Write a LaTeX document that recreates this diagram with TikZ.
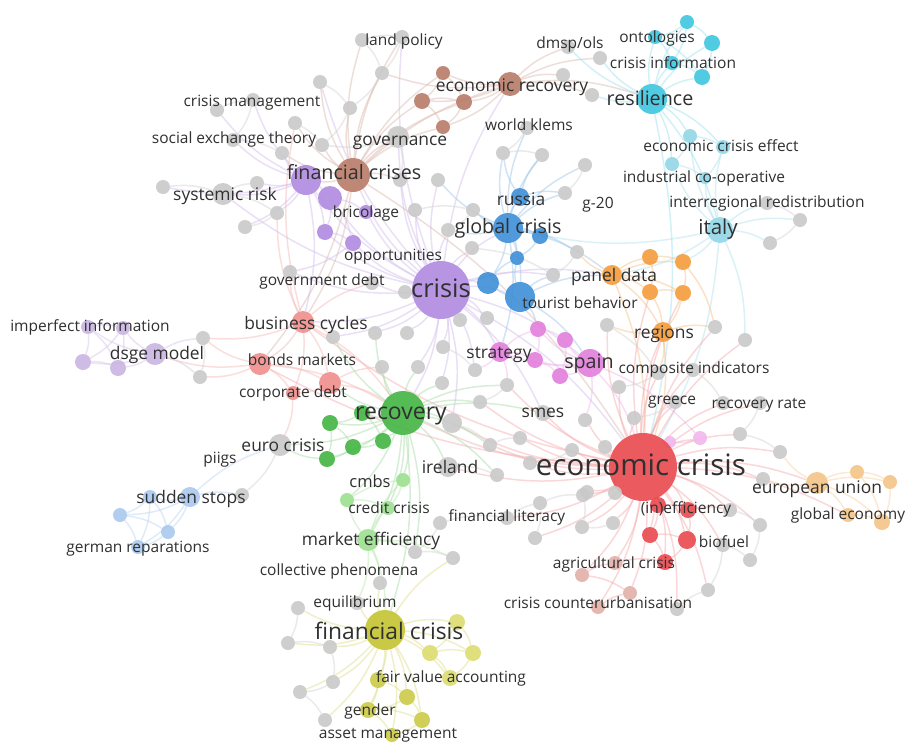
\documentclass[tikz,border=0pt]{standalone}
\usepackage{fontspec}
\setmainfont{Open Sans}
\pgfdeclarelayer{bg}
\pgfdeclarelayer{paper}
\pgfsetlayers{paper,bg,main}

% cluster colours
\definecolor{pur}{HTML}{B08AE0}
\definecolor{brn}{HTML}{B97A68}
\definecolor{cya}{HTML}{3FC6DF}
\definecolor{lcy}{HTML}{92D7E8}
\definecolor{blu}{HTML}{3D8FD8}
\definecolor{org}{HTML}{F39C3A}
\definecolor{pnk}{HTML}{E37FDC}
\definecolor{ppk}{HTML}{F2B6EC}
\definecolor{red}{HTML}{E8494E}
\definecolor{pred}{HTML}{E2B0A8}
\definecolor{sal}{HTML}{F08F8C}
\definecolor{grn}{HTML}{42B443}
\definecolor{lgr}{HTML}{9CE090}
\definecolor{yel}{HTML}{C4C432}
\definecolor{lye}{HTML}{DCDC70}
\definecolor{lpu}{HTML}{C9B5E2}
\definecolor{lbl}{HTML}{A9C8EE}
\definecolor{lor}{HTML}{F5C487}
\definecolor{gry}{HTML}{C9C9C9}
\definecolor{labtext}{HTML}{303030}

\newcommand{\fsz}[1]{\fontsize{#1}{#1}\selectfont}

\tikzset{
  dot/.style={circle, inner sep=0pt, draw=none, fill opacity=0.9},
  lab/.style={anchor=mid, inner sep=0pt, text=labtext, font=\fsz{15.5}, yshift=-3pt},
  labm/.style={lab, font=\fsz{17.4}, yshift=-0.5pt},
  labb/.style={lab, font=\fsz{19.7}, yshift=-1pt},
  link/.style={line width=1.5pt, draw opacity=0.48},
  ePur/.style={link, draw=pur!55},
  eBr/.style={link, draw=brn!50},
  eCy/.style={link, draw=cya!50},
  eLc/.style={link, draw=lcy!70},
  eBl/.style={link, draw=blu!50},
  eOr/.style={link, draw=org!60},
  ePk/.style={link, draw=pnk!55},
  eRd/.style={link, draw=red!45},
  eSa/.style={link, draw=sal!60},
  eGr/.style={link, draw=grn!45},
  eLg/.style={link, draw=lgr!70},
  eYe/.style={link, draw=yel!55},
  eLp/.style={link, draw=lpu!75},
  eLb/.style={link, draw=lbl!75},
  eLo/.style={link, draw=lor!75},
  eGy/.style={link, draw=gry!80},
}

\begin{document}
\begin{tikzpicture}[x=1pt, y=-1pt]
\useasboundingbox (0,0) rectangle (907,742);
\begin{pgfonlayer}{paper}
\fill[white] (0,0) rectangle (907,742);
\end{pgfonlayer}

% ---------- coloured items ----------
\foreach \n/\x/\y/\r in {crisis/441/290/29, pA/306/180/15, pB/330/198/12, pC/325/232/8, pD/353/243/8, bric/366/212/7}
  \node[dot, fill=pur, minimum size=2*\r] (\n) at (\x,\y) {};
\foreach \n/\x/\y/\r in {fcs/353/175/17, erec/510/84/12, bA/443/73/7, bB/422/101/8, bC/464/102/8, bD/443/127/7}
  \node[dot, fill=brn, minimum size=2*\r] (\n) at (\x,\y) {};
\foreach \n/\x/\y/\r in {res/652/99/15, cA/687/22/7, cB/655/37/7, cC/712/43/8, cD/672/63/7, cE/702/77/8}
  \node[dot, fill=cya, minimum size=2*\r] (\n) at (\x,\y) {};
\foreach \n/\x/\y/\r in {lcA/690/136/7, lcB/723/147/7, lcC/672/164/7, lcD/705/178/6, italy/720/230/13}
  \node[dot, fill=lcy, minimum size=2*\r] (\n) at (\x,\y) {};
\foreach \n/\x/\y/\r in {gc/508/228/15, russia/520/197/9, blA/540/236/8, blB/488/283/11, blC/517/258/7, tour/520/297/15}
  \node[dot, fill=blu, minimum size=2*\r] (\n) at (\x,\y) {};
\foreach \n/\x/\y/\r in {panel/612/275/10, oA/650/257/8, oB/683/262/8, oC/650/292/8, oD/683/293/8, regions/663/332/10}
  \node[dot, fill=org, minimum size=2*\r] (\n) at (\x,\y) {};
\foreach \n/\x/\y/\r in {spain/590/363/14, strat/500/352/10, kA/538/329/8, kB/565/340/8, kC/535/360/8, kD/560/376/8}
  \node[dot, fill=pnk, minimum size=2*\r] (\n) at (\x,\y) {};
\foreach \n/\x/\y/\r in {pkA/700/438/7, pkB/670/442/6}
  \node[dot, fill=ppk, minimum size=2*\r] (\n) at (\x,\y) {};
\foreach \n/\x/\y/\r in {ec/643/467/34, rA/658/505/8, rB/688/510/8, rC/650/535/8, rD/687/540/9, rE/665/562/8}
  \node[dot, fill=red, minimum size=2*\r] (\n) at (\x,\y) {};
\foreach \n/\x/\y/\r in {agA/582/575/7, agB/615/563/7, cuA/630/593/7, cuB/598/607/7}
  \node[dot, fill=pred, minimum size=2*\r] (\n) at (\x,\y) {};
\foreach \n/\x/\y/\r in {bc/303/322/11, bm/260/364/11, cd/330/383/11, sA/293/393/7}
  \node[dot, fill=sal, minimum size=2*\r] (\n) at (\x,\y) {};
\foreach \n/\x/\y/\r in {rec/403/413/22, gA/362/413/8, gB/330/423/8, gC/353/447/8, gD/383/441/8, gE/327/459/8}
  \node[dot, fill=grn, minimum size=2*\r] (\n) at (\x,\y) {};
\foreach \n/\x/\y/\r in {cmbs/403/480/7, lgA/347/500/7, lgB/388/508/7, mef/368/540/11}
  \node[dot, fill=lgr, minimum size=2*\r] (\n) at (\x,\y) {};
\node[dot, fill=yel, minimum size=40] (fc) at (385,630) {};
\foreach \n/\x/\y/\r in {yA/457/622/8, yB/430/653/8, yC/473/653/8, yD/450/678/8}
  \node[dot, fill=lye, minimum size=2*\r] (\n) at (\x,\y) {};
\foreach \n/\x/\y/\r in {yE/378/680/8, yF/407/697/8, yG/368/710/8, yH/422/720/8, yI/392/735/7}
  \node[dot, fill=yel!90, minimum size=2*\r] (\n) at (\x,\y) {};
\foreach \n/\x/\y/\r in {dsge/155/354/11, lpA/88/327/7, lpB/123/328/7, lpC/83/362/8, lpD/118/368/8}
  \node[dot, fill=lpu, minimum size=2*\r] (\n) at (\x,\y) {};
\foreach \n/\x/\y/\r in {ss/190/497/10, lbA/150/497/7, lbB/120/515/7, lbC/168/532/7, lbD/138/547/7}
  \node[dot, fill=lbl, minimum size=2*\r] (\n) at (\x,\y) {};
\foreach \n/\x/\y/\r in {eu/817/483/11, loA/857/472/7, loB/890/482/7, loC/848/515/7, loD/882/522/8}
  \node[dot, fill=lor, minimum size=2*\r] (\n) at (\x,\y) {};

% ---------- grey items ----------
\foreach \n/\x/\y/\r in {
  g1/362/40/7, g2/402/37/7, g3/382/73/7, g4/320/82/7, g5/350/108/7, g6/295/123/7,
  g7/322/145/7, gov/398/137/11, g9/217/110/7, g10/253/100/7, g11/233/140/7,
  g12/282/153/7, g13/163/187/7, sys/223/194/11, g15/257/183/7, g16/277/213/7,
  g17/245/227/7, g18/438/180/7, g19/400/180/7, g20/415/210/7, g21/473/210/7,
  g22/448/230/7, wk/527/128/7, g24/503/153/7, g25/542/155/7, g26/585/165/7,
  g20n/565/193/7, dm1/568/47/7, dm2/600/58/7, dm3/563/75/7, dm4/592/95/7,
  g31/372/283/7, g32/405/292/7, g33/460/320/7, g34/487/318/7, g35/333/337/7,
  g36/375/333/7, g37/407/333/7, g38/443/347/7, g39/382/367/7, g40/418/367/7,
  g41/475/370/7, g42/507/385/7, g43/442/383/7, g44/480/402/7, g45/452/423/10,
  smes/543/413/8, g47/490/445/7, g48/520/438/7, g49/585/420/7, g50/572/450/7,
  irl/448/467/10, g52/497/475/7, g53/530/463/7, g54/587/492/7, g55/607/325/7,
  g56/715/327/7, g57/745/340/7, g58/658/373/7, g59/693/370/7, g60/619/387/7,
  gre/675/402/7, g62/723/403/7, g63/760/403/7, g64/634/418/7, g65/740/434/7,
  g66/780/452/7, g67/763/479/7, it1/767/203/7, it2/800/220/7, it3/770/243/7,
  g69/613/523/7, g70/730/510/7, g71/760/525/7, g72/723/545/7, g73/750/560/7,
  g74/708/590/7, g75/677/609/7, fl1/440/523/7, g77/415/552/7, g78/453/558/7,
  g79/380/583/7, g80/357/603/7, fl2/507/518/7, g82/540/503/7, g83/535/538/7,
  g84/583/495/7, g85/582/527/7, g86/330/647/7, g87/333/682/7, g88/300/692/7,
  g89/325/720/7, g90/298/608/7, g91/288/643/7, g93/242/495/7, g94/203/338/7,
  g95/200/377/7, g96/290/272/7, euro/280/445/11, g97/472/248/7, g98/553/275/7,
  g99/577/252/7, g100/605/447/7, g101/615/493/7}
  \node[dot, fill=gry, minimum size=2*\r] (\n) at (\x,\y) {};

% ---------- links ----------
\begin{pgfonlayer}{bg}
\foreach \a/\b in {crisis/pA, crisis/pB, crisis/pC, crisis/pD, crisis/bric, crisis/g31,
  crisis/g32, crisis/g33, crisis/g34, crisis/g36, crisis/g37, crisis/g38, crisis/g40,
  crisis/g22, crisis/g20, crisis/g18, crisis/g19, crisis/fcs, crisis/bc, crisis/rec,
  crisis/ec, crisis/gc, crisis/blB, crisis/tour, crisis/strat, crisis/spain, crisis/panel,
  crisis/gov, crisis/g45, crisis/g43, crisis/g96, crisis/erec, crisis/g4, crisis/sys,
  crisis/g41, crisis/smes, crisis/g35, crisis/g97, crisis/g98, crisis/g2, pA/g13, pA/sys,
  pA/g15, pA/g16, pA/g17, pA/g11, pA/g12, pA/g9, pA/pB, pA/pC, pA/g10, pB/pC, pB/pD,
  pB/bric, pC/pD, pD/g96, pA/bc}
  \draw[ePur] (\a) to[bend left=12] (\b);
\foreach \a/\b in {fcs/pA, fcs/erec, fcs/bA, fcs/bB, fcs/bC, fcs/bD, fcs/gov, fcs/g5,
  fcs/g4, fcs/g6, fcs/g7, fcs/g3, fcs/bc, fcs/g12, fcs/g19, fcs/g1, fcs/g2, erec/bA,
  erec/bB, erec/bC, erec/bD, erec/dm1, erec/dm2, erec/dm3, erec/res, erec/g3, erec/dm4,
  bA/bB, bA/bC, bB/bD, bC/bD, bB/bC, fcs/ec, fcs/bm}
  \draw[eBr] (\a) to[bend left=12] (\b);
\foreach \a/\b in {res/cA, res/cB, res/cC, res/cD, res/cE, res/lcA, res/lcB, res/lcC,
  res/italy, res/dm2, res/dm4, res/dm1, cA/cB, cA/cC, cB/cD, cC/cE, cD/cE, cB/cE, cA/cD, res/ec}
  \draw[eCy] (\a) to[bend left=12] (\b);
\foreach \a/\b in {italy/lcA, italy/lcB, italy/lcC, italy/lcD, italy/it1, italy/it2,
  italy/it3, italy/gc, italy/panel, italy/oB, italy/ec, lcA/lcB, lcC/lcD, lcA/lcC,
  lcB/lcD, italy/g57}
  \draw[eLc] (\a) to[bend left=12] (\b);
\foreach \a/\b in {gc/russia, gc/blA, gc/blB, gc/blC, gc/tour, gc/wk, gc/g24, gc/g25,
  gc/g26, gc/g20n, gc/g21, gc/g22, gc/panel, tour/blB, tour/blC, tour/panel, tour/spain,
  tour/kA, russia/g20n, russia/g24, russia/g25, blA/blC, blB/blC, gc/g18, gc/strat,
  tour/g98, gc/g99}
  \draw[eBl] (\a) to[bend left=12] (\b);
\foreach \a/\b in {panel/oA, panel/oB, panel/oC, panel/oD, panel/regions, panel/ec,
  oA/oB, oA/oC, oB/oD, oC/oD, oC/regions, oD/regions, regions/ec, regions/g58,
  regions/g55, regions/g56, oB/g56, panel/g99}
  \draw[eOr] (\a) to[bend left=12] (\b);
\foreach \a/\b in {spain/kA, spain/kB, spain/kC, spain/kD, spain/strat, spain/ec,
  spain/g49, strat/kA, strat/kC, strat/g42, strat/g41, kA/kB, kC/kD, kB/kD, kA/kC,
  spain/pkA, pkA/pkB}
  \draw[ePk] (\a) to[bend left=12] (\b);
\foreach \a/\b in {ec/rA, ec/rB, ec/rC, ec/rD, ec/rE, ec/agA, ec/agB, ec/cuA, ec/cuB,
  ec/smes, ec/gre, ec/g62, ec/g63, ec/g65, ec/g66, ec/g67, ec/g64, ec/g60, ec/g58, ec/g59,
  ec/g49, ec/g50, ec/g53, ec/g54, ec/g84, ec/g85, ec/g69, ec/g70, ec/g71, ec/g72,
  ec/g74, ec/g75, ec/irl, ec/rec, ec/eu, ec/loC, ec/regions, ec/g57, ec/g56, ec/pkA,
  ec/pkB, ec/fl2, ec/g83, ec/bc, ec/g48, ec/g55, ec/g45, ec/g47, ec/g44, ec/g42, ec/bm,
  ec/oC, ec/oD, ec/g100, ec/g101, rA/rB, rA/rC, rB/rD, rC/rD, rC/rE, rD/rE, rB/g70,
  agA/agB, agA/cuA, agB/rE, cuB/cuA}
  \draw[eRd] (\a) to[bend left=12] (\b);
\foreach \a/\b in {bc/bm, bc/cd, bc/sA, bc/g35, bc/g94, bc/g96, bc/g6, bc/rec, bm/cd,
  bm/sA, bm/dsge, bm/g94, bm/g95, bm/rec, cd/sA, cd/rec, cd/g39, bc/g16, bc/g31, sA/euro}
  \draw[eSa] (\a) to[bend left=12] (\b);
\foreach \a/\b in {rec/gA, rec/gB, rec/gC, rec/gD, rec/gE, rec/cmbs, rec/lgA, rec/lgB,
  rec/mef, rec/cd, rec/euro, rec/g45, rec/irl, rec/smes, rec/fc, rec/g39, rec/g40,
  rec/g43, rec/g44, rec/g47, rec/g77, rec/g35, rec/g36, gB/gC, gC/gE, gB/gE, gA/gB,
  gD/gC, gA/gD, gE/euro, rec/g52, rec/g42}
  \draw[eGr] (\a) to[bend left=12] (\b);
\foreach \a/\b in {mef/lgA, mef/lgB, mef/cmbs, mef/fc, mef/g79, mef/g77, mef/g78,
  lgA/lgB, cmbs/lgB, lgA/cmbs, mef/g80}
  \draw[eLg] (\a) to[bend left=12] (\b);
\foreach \a/\b in {fc/yA, fc/yB, fc/yC, fc/yD, fc/yE, fc/yF, fc/yG, fc/yH, fc/yI,
  fc/g79, fc/g80, fc/g86, fc/g87, fc/g88, fc/g89, fc/g90, fc/g91, fc/g78, yA/yC, yB/yC,
  yB/yD, yC/yD, yE/yF, yF/yG, yF/yH, yG/yH, yE/yG, yA/yB, yG/yI, yH/yI}
  \draw[eYe] (\a) to[bend left=12] (\b);
\foreach \a/\b in {dsge/lpA, dsge/lpB, dsge/lpC, dsge/lpD, dsge/g94, dsge/g95, lpA/lpB,
  lpA/lpC, lpC/lpD, lpB/lpD, lpA/lpD, lpB/lpC}
  \draw[eLp] (\a) to[bend left=12] (\b);
\foreach \a/\b in {ss/lbA, ss/lbB, ss/lbC, ss/lbD, ss/g93, ss/euro, lbA/lbB, lbB/lbD,
  lbA/lbC, lbC/lbD, lbB/lbC, lbA/lbD}
  \draw[eLb] (\a) to[bend left=12] (\b);
\foreach \a/\b in {eu/loA, eu/loB, eu/loC, eu/loD, eu/g67, loA/loB, loC/loD, loA/loD,
  loB/loD, eu/g66}
  \draw[eLo] (\a) to[bend left=12] (\b);
\foreach \a/\b in {g1/g3, g2/g3, g3/g5, g9/g10, g10/g11, g11/g12, g13/sys, sys/g15,
  sys/g16, g16/g17, euro/g93, g86/g87, g87/g88, g88/g89, g90/g91, g91/g86, it1/it2,
  it2/it3, g70/g71, g72/g73, g71/g73, g62/g63, g63/g65, g65/g66, g75/g74, wk/g24,
  g24/g25, g26/g20n, fl1/fl2, g82/g83, g84/g85, g94/g95, g5/g7, g6/g7, gov/g7, gov/g19,
  g20/g21, g21/g22, g55/g58, g58/g60, g59/g62, gre/g64, g69/g85, g72/g74, g1/g2, g4/g5,
  g38/g41, g42/g44, g47/g48, g50/g53, irl/g52, fl1/g77, g77/g78, g82/g84, fl2/g82,
  g45/g47, g97/g98, g99/g98, g100/g101}
  \draw[eGy] (\a) to[bend left=12] (\b);
\end{pgfonlayer}

% ---------- labels ----------
\node[lab] (t1) at (404,40) {land policy};
\node[lab] (t2) at (570,43) {dmsp/ols};
\node[lab] (t3) at (657,37) {ontologies};
\node[lab] (t4) at (673,63) {crisis information};
\node[lab] (t5) at (252,101) {crisis management};
\node[lab] (t6) at (529,125) {world klems};
\node[lab] (t7) at (234,138) {social exchange theory};
\node[lab] (t8) at (721,146) {economic crisis effect};
\node[lab] (t9) at (704,177) {industrial co-operative};
\node[lab] (t10) at (366,212) {bricolage};
\node[lab] (t11) at (767,202) {interregional redistribution};
\node[lab] (t12) at (598,203) {g-20};
\node[lab] (t13) at (393,255) {opportunities};
\node[lab] (t14) at (322,280) {government debt};
\node[lab] (t15) at (580,303) {tourist behavior};
\node[lab] (t16) at (90,326) {imperfect information};
\node[lab] (t17) at (302,360) {bonds markets};
\node[lab] (t18) at (694,368) {composite indicators};
\node[lab] (t19) at (293,392) {corporate debt};
\node[lab] (t20) at (672,399) {greece};
\node[lab] (t21) at (759,403) {recovery rate};
\node[lab] (t22) at (220,458) {piigs};
\node[lab] (t23) at (389,508) {credit crisis};
\node[lab] (t24) at (686,508) {(in)efficiency};
\node[lab] (t25) at (507,516) {financial literacy};
\node[lab] (t26) at (848,514) {global economy};
\node[lab] (t27) at (724,542) {biofuel};
\node[lab] (t28) at (138,547) {german reparations};
\node[lab] (t29) at (614,563) {agricultural crisis};
\node[lab] (t30) at (339,570) {collective phenomena};
\node[lab] (t31) at (598,603) {crisis counterurbanisation};
\node[lab] (t32) at (355,602) {equilibrium};
\node[lab] (t33) at (451,677) {fair value accounting};
\node[lab] (t34) at (370,710) {gender};
\node[lab] (t35) at (388,733) {asset management};

\node[labm] (m1) at (512,85) {economic recovery};
\node[labm] (m2) at (400,139) {governance};
\node[labm] (m3) at (225,194) {systemic risk};
\node[labm] (m4) at (521,199) {russia};
\node[labm] (m5) at (614,275) {panel data};
\node[labm] (m6) at (306,323) {business cycles};
\node[labm] (m7) at (664,332) {regions};
\node[labm] (m8) at (157,353) {dsge model};
\node[labm] (m9) at (499,352) {strategy};
\node[labm] (m10) at (283,445) {euro crisis};
\node[labm] (m11) at (543,411) {smes};
\node[labm] (m12) at (450,467) {ireland};
\node[labm] (m13) at (817,487) {european union};
\node[lab, font=\fsz{16.5}] (m14) at (370,482) {cmbs};
\node[labm] (m15) at (191,497) {sudden stops};
\node[labm] (m16) at (371,539) {market efficiency};

\node[labb] (b1) at (354,173) {financial crises};
\node[labb] (b2) at (508,227) {global crisis};
\node[labb] (b3) at (650,99) {resilience};
\node[labb] (b4) at (589,362) {spain};
\node[labb, font=\fsz{20.5}] (b5) at (718,228) {italy};
\node[lab, font=\fsz{23}, yshift=-1.5pt] (h1) at (401,412) {recovery};
\node[lab, font=\fsz{22.8}, yshift=-1.5pt] (h2) at (389,632) {financial crisis};
\node[lab, font=\fsz{25.4}, yshift=-2pt] (h3) at (441,290) {crisis};
\node[lab, font=\fsz{29.5}, yshift=-3pt] (h4) at (641,467) {economic crisis};
\end{tikzpicture}
\end{document}
